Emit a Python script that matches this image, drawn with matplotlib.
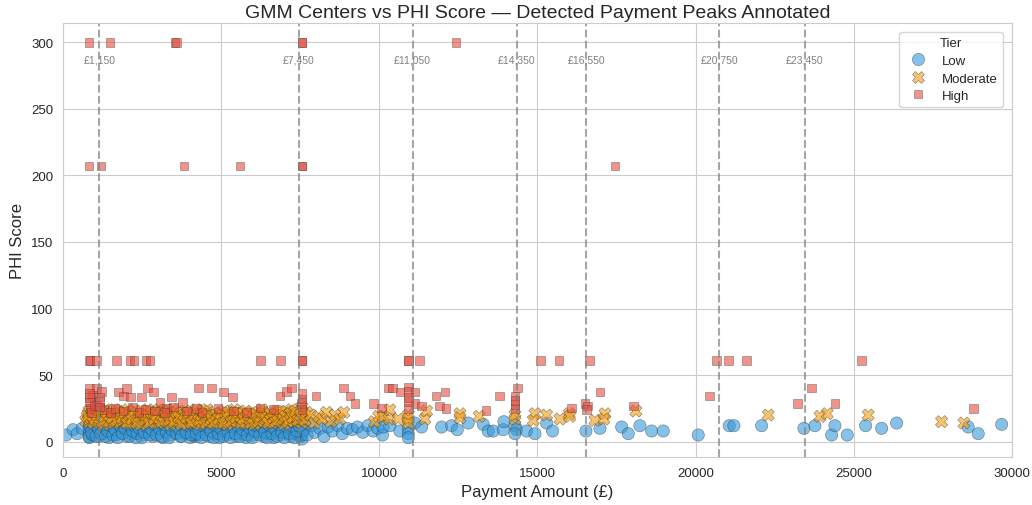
import matplotlib
matplotlib.use("Agg")
import matplotlib.pyplot as plt
import seaborn as sns
import pandas as pd

# ---------------- data ----------------
peaks = [1150, 7450, 11050, 14350, 16550, 20750, 23450]
tiers = ["Low", "Moderate", "High"]
tier_colors = {"Low": "#3498DB", "Moderate": "#F39C12", "High": "#E74C3C"}

low_pts = [
    (95, 5), (320, 9), (450, 6), (610, 10),
    (830, 3), (830, 6), (830, 9), (830, 12), (830, 4),
    (870, 11), (940, 5), (1010, 8), (1095, 12), (1150, 4), (1240, 9), (1290, 6), (1385, 11), (1460, 3),
    (1530, 8), (1615, 13), (1680, 5), (1770, 10), (1840, 7), (1925, 12), (2010, 4), (2065, 9), (2150, 6),
    (2240, 11), (2310, 3), (2385, 8), (2470, 12), (2530, 5), (2620, 10), (2705, 7), (2780, 13), (2850, 4),
    (2935, 9), (3010, 6), (3095, 11), (3160, 3), (3245, 8), (3330, 12), (3390, 5), (3480, 10), (3555, 7),
    (3620, 13), (3710, 4), (3790, 9), (3860, 6), (3945, 11), (4020, 3), (4100, 8),
    (4170, 4), (4170, 7), (4170, 10), (4170, 5),
    (4255, 12), (4320, 5), (4410, 10), (4480, 7), (4565, 13), (4640, 4), (4710, 9), (4790, 6), (4870, 11),
    (4935, 3), (5020, 8), (5105, 12), (5170, 5), (5260, 10), (5330, 7), (5410, 13), (5480, 4), (5560, 9),
    (5640, 6), (5700, 11), (5790, 3), (5870, 8), (5940, 12), (6020, 5), (6110, 10), (6180, 7), (6250, 13),
    (6340, 4), (6420, 9), (6490, 6), (6570, 11), (6660, 3), (6720, 8), (6805, 12), (6880, 5), (6960, 10),
    (7040, 7), (7110, 13), (7190, 4), (7270, 9), (7350, 6), (7420, 11), (7500, 4),
    (7555, 2), (7555, 5), (7555, 8), (7555, 11), (7555, 13),
    (900, 7), (975, 13), (1050, 4), (1120, 10), (1200, 6), (1270, 13), (1340, 4), (1420, 8), (1500, 12),
    (1575, 5), (1650, 9), (1730, 3), (1810, 12), (1880, 6), (1970, 10), (2040, 13), (2110, 4), (2200, 8),
    (2270, 12), (2350, 6), (2420, 10), (2500, 3), (2570, 7), (2660, 11), (2740, 5), (2810, 9), (2890, 13),
    (2960, 5), (3040, 10), (3120, 4), (3200, 13), (3280, 7), (3360, 3), (3440, 9), (3520, 12), (3590, 6),
    (3670, 10), (3750, 4), (3830, 13), (3900, 7), (3980, 12), (4060, 5), (4140, 12), (4220, 6), (4300, 9),
    (4370, 3), (4450, 12), (4530, 5), (4600, 11), (4680, 8), (4760, 3), (4840, 12), (4920, 6), (4990, 10),
    (5070, 4), (5140, 13), (5220, 7), (5300, 3), (5370, 11), (5450, 6), (5520, 12), (5600, 4), (5680, 9),
    (5750, 13), (5830, 5), (5910, 10), (5990, 3), (6060, 8), (6140, 12), (6220, 5), (6300, 11), (6380, 7),
    (6450, 3), (6530, 12), (6610, 6), (6690, 10), (6770, 4), (6840, 13), (6920, 7), (7000, 3), (7080, 11),
    (7160, 6), (7240, 12), (7320, 3), (7400, 8), (7470, 12),
    (7640, 9), (7720, 5), (7850, 12), (7960, 7), (8120, 10), (8250, 4), (8380, 11), (8520, 8), (8690, 12),
    (8830, 6), (8990, 10), (9150, 9), (9310, 11), (9480, 7), (9640, 12), (9800, 8), (9950, 10), (10100, 5),
    (10125, 11), (10336, 12), (10652, 8), (10916, 10), (10916, 6), (10916, 3), (11127, 14), (11338, 11),
    (11970, 11), (12286, 12), (12465, 9), (12812, 14), (13286, 13), (13444, 8), (13602, 8), (13918, 9),
    (13940, 15), (14288, 12), (14340, 9), (14288, 6), (14656, 8), (14920, 6), (15289, 14), (15479, 8),
    (16532, 8), (16975, 10), (17661, 11), (17870, 6), (18239, 12), (18609, 8), (18976, 8), (20082, 5),
    (21062, 12), (21210, 12), (22086, 12), (23423, 10), (23771, 12), (24299, 5), (24403, 12), (24792, 5),
    (25374, 12), (25880, 10), (26354, 14), (28617, 11), (28933, 6), (29673, 13),
]

moderate_pts = [
    (720, 16), (800, 21), (830, 15), (830, 19), (830, 23), (830, 17), (880, 18), (960, 14), (1040, 22),
    (1120, 16), (1190, 20), (1270, 13), (1350, 24), (1430, 17), (1510, 21), (1590, 14), (1660, 19),
    (1740, 23), (1820, 15), (1900, 20), (1980, 17), (2060, 24), (2130, 14), (2210, 19), (2290, 22),
    (2370, 16), (2450, 13), (2530, 21), (2600, 18), (2680, 24), (2760, 15), (2840, 19), (2920, 22),
    (3000, 14), (3070, 17), (3150, 23), (3230, 16), (3310, 20), (3390, 13), (3470, 24), (3540, 18),
    (3620, 15), (3700, 21), (3780, 17), (3860, 23), (3940, 14), (4010, 19), (4090, 16), (4170, 22),
    (4170, 15), (4250, 18), (4330, 13), (4410, 21), (4480, 17), (4560, 24), (4640, 15), (4720, 19),
    (4800, 22), (4880, 14), (4950, 18), (5030, 16), (5110, 23), (5190, 13), (5270, 20), (5350, 17),
    (5420, 24), (5500, 15), (5580, 19), (5660, 21), (5740, 14), (5820, 18), (5890, 16), (5970, 22),
    (6050, 13), (6130, 20), (6210, 17), (6290, 24), (6360, 15), (6440, 19), (6520, 21), (6600, 14),
    (6680, 18), (6760, 23), (6830, 16), (6910, 20), (6990, 13), (7070, 22), (7150, 17), (7230, 24),
    (7300, 15), (7380, 19), (7460, 21),
    (7555, 14), (7555, 17), (7555, 20), (7555, 23), (7555, 26),
    (760, 19), (920, 23), (1000, 17), (1080, 20), (1160, 24), (1230, 15), (1310, 19), (1390, 22),
    (1470, 15), (1550, 18), (1630, 24), (1700, 16), (1780, 21), (1860, 18), (1940, 22), (2020, 14),
    (2100, 20), (2170, 17), (2250, 23), (2330, 14), (2410, 19), (2490, 23), (2570, 16), (2640, 20),
    (2720, 14), (2800, 22), (2880, 17), (2960, 20), (3040, 24), (3110, 15), (3190, 19), (3270, 22),
    (3350, 16), (3430, 20), (3510, 15), (3580, 22), (3660, 18), (3740, 13), (3820, 20), (3900, 18),
    (3980, 22), (4050, 14), (4130, 20), (4210, 24), (4290, 16), (4370, 20), (4440, 23), (4520, 14),
    (4600, 20), (4680, 17), (4760, 14), (4840, 20), (4920, 17), (4990, 21), (5070, 14), (5150, 19),
    (5230, 22), (5310, 15), (5390, 20), (5460, 18), (5540, 22), (5620, 14), (5700, 17), (5780, 23),
    (5860, 20), (5930, 14), (6010, 18), (6090, 21), (6170, 15), (6250, 19), (6320, 22), (6400, 17),
    (6480, 14), (6560, 21), (6640, 18), (6720, 15), (6790, 20), (6870, 23), (6950, 17), (7030, 19),
    (7110, 15), (7190, 21), (7260, 18), (7340, 23), (7420, 16), (7500, 20),
    (7650, 16), (7700, 22), (7830, 20), (7950, 14), (8080, 19), (8200, 17), (8330, 22), (8470, 15),
    (8600, 20), (8750, 17), (8880, 22), (9850, 15), (9980, 19), (10125, 19), (10315, 17), (10336, 24),
    (10599, 17), (10916, 20), (10916, 17), (10916, 14), (11443, 17), (11496, 23), (12550, 21),
    (12550, 18), (13159, 19), (14288, 17), (14288, 20), (14920, 21), (14867, 16), (15289, 20),
    (15710, 17), (16005, 21), (16027, 19), (16817, 16), (17133, 21), (17101, 17), (18112, 23),
    (22296, 20), (23930, 19), (24160, 21), (25456, 20), (27775, 15), (28480, 14),
]

high_pts = [
    (822, 300), (1486, 300), (3540, 300), (3600, 300), (7555, 300), (7555, 300), (12423, 300),
    (822, 207), (1201, 207), (3825, 207), (5595, 207), (7555, 207), (7555, 207), (17449, 207),
    (830, 61), (860, 61), (1064, 61), (1697, 61), (2118, 61), (2245, 61), (2624, 61), (2750, 61),
    (6250, 61), (6882, 61), (7555, 61), (7555, 61), (10916, 61), (10916, 61), (11264, 61), (15100, 61),
    (15680, 61), (16637, 61), (20664, 61), (21030, 61), (21613, 61), (25248, 61),
    (832, 39.8), (1064, 39.8), (938, 34.8), (1222, 37.8), (1148, 33.6), (832, 29.8), (1064, 27.3),
    (1749, 37.4), (2013, 39.8), (1907, 34.4), (2139, 33.6), (2487, 33.6), (2666, 40.4), (2856, 37.4),
    (3066, 29.3), (3436, 33.6), (3783, 29.3), (3277, 24.8), (4278, 40.4), (4700, 40.4), (5068, 37.4),
    (5364, 33.6), (4226, 24.8), (6227, 25.3), (6648, 24.3), (6859, 34.4), (7070, 37.8), (7228, 40.4),
    (7544, 28.6), (7997, 34.4), (8860, 40.4), (9072, 34.4), (9230, 28.6), (9809, 28.6), (10073, 25.3),
    (10283, 40.4), (10420, 40.4), (10652, 37.4), (10916, 41.1), (10916, 37.8), (11127, 37.4),
    (11127, 28.6), (11338, 26.8), (10916, 24.8), (11790, 34.4), (11896, 26.8), (12075, 37.4),
    (12107, 24.8), (13371, 23.6), (13792, 34.4), (14288, 34.4), (14361, 40.4), (14288, 24.8),
    (16080, 25.3), (16500, 28.6), (16574, 26.8), (16975, 37.4), (18028, 26.8), (20430, 34.4),
    (23211, 28.6), (23666, 40.4), (24403, 28.6), (28775, 24.8),
    (860, 25), (900, 22), (1000, 27), (1300, 24), (1500, 22), (1650, 25), (1900, 23), (2200, 26),
    (2400, 22), (2600, 24), (2900, 23), (3200, 22), (3500, 26), (3900, 23), (4400, 22), (4900, 25),
    (5400, 23), (5800, 22), (7555, 24), (7555, 32), (7555, 36), (830, 33), (830, 36), (10916, 30),
    (10916, 33), (14288, 28), (14288, 31), (16550, 24), (1150, 30), (1150, 26),
]

# ---------------- build frame ----------------
rows = []
for tier, pts in (("Low", low_pts), ("Moderate", moderate_pts), ("High", high_pts)):
    for x, y in pts:
        rows.append({"Payment": x, "PHI": y, "Tier": tier})
df = pd.DataFrame(rows)

sns.set_style("whitegrid")
plt.rcParams["font.family"] = ["Liberation Sans", "DejaVu Sans"]

fig, ax = plt.subplots(figsize=(10.32, 5.06), dpi=100)
fig.subplots_adjust(left=0.061, right=0.9806, top=0.9526, bottom=0.0949)

sns.scatterplot(data=df, x="Payment", y="PHI", hue="Tier", style="Tier",
                hue_order=tiers, style_order=tiers, palette=tier_colors,
                s=78, alpha=0.6, edgecolor="#333333", linewidth=0.4, ax=ax)

for p in peaks:
    ax.axvline(p, color="gray", linestyle="--", linewidth=1.5, alpha=0.7, zorder=1)
    ax.text(p, 287, f"£{p:,}", ha="center", va="center", fontsize=7.5, color="gray")

ax.set_xlim(0, 30000)
ax.set_ylim(-11.5, 314.5)
ax.set_title("GMM Centers vs PHI Score — Detected Payment Peaks Annotated", fontsize=14, pad=4)
ax.set_xlabel("Payment Amount (£)", fontsize=12)
ax.set_ylabel("PHI Score", fontsize=12)
ax.tick_params(labelsize=9.5)
ax.legend(title="Tier", loc="upper right", fontsize=9.5, title_fontsize=9.5,
          borderaxespad=0.7, labelspacing=0.4)

fig.savefig("out.png", dpi=100)
